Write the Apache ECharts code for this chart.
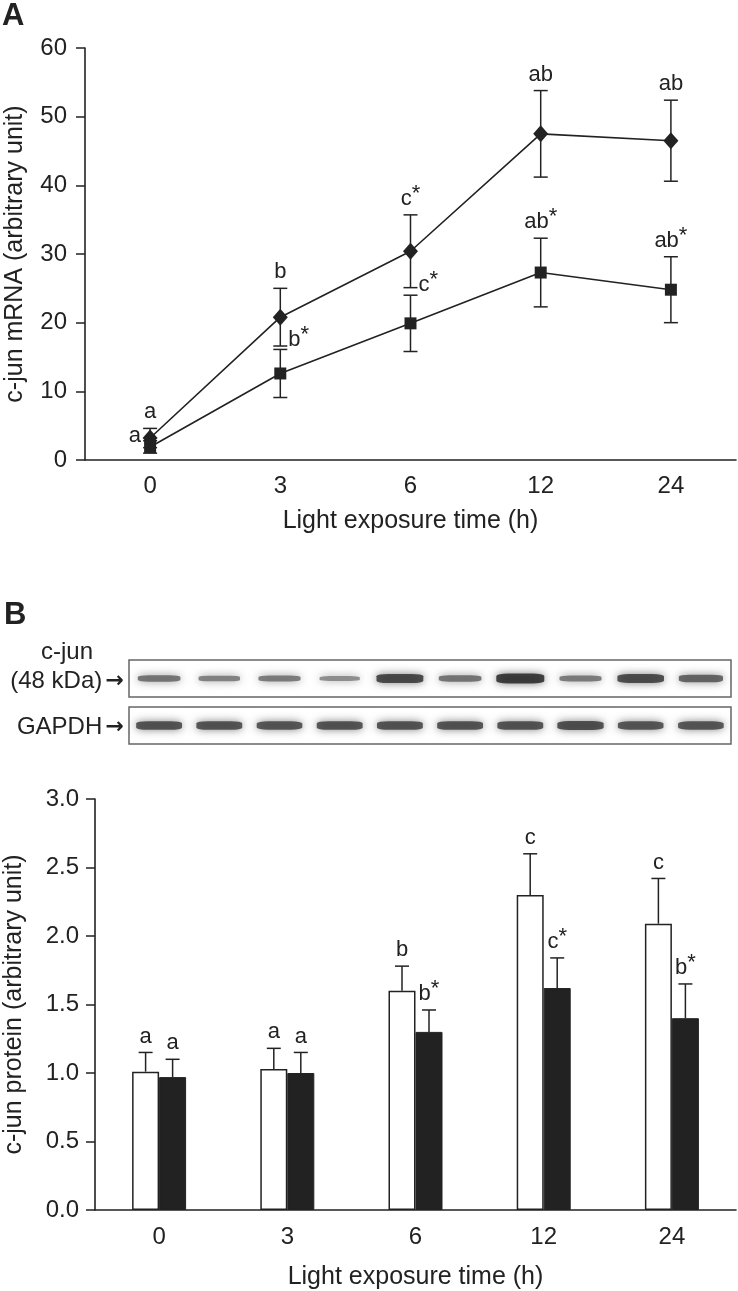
<!DOCTYPE html>
<html>
<head>
<meta charset="utf-8">
<script src="https://cdn.jsdelivr.net/npm/echarts@6/dist/echarts.min.js"></script>
<style>
html, body { margin: 0; padding: 0; background: #fff; }
#chart { width: 738px; height: 1291px; }
</style>
</head>
<body>
<div id="chart"></div>
<script>
// time points (h)
var hours = ['0', '3', '6', '12', '24'];

// A: c-jun mRNA, diamond and square groups (mean, SD)
var mrnaDiamond = [3.2, 20.8, 30.4, 47.5, 46.5];
var mrnaDiamondSd = [1.4, 4.2, 5.3, 6.3, 5.9];
var mrnaSquare = [1.9, 12.6, 19.9, 27.3, 24.8];
var mrnaSquareSd = [0.9, 3.5, 4.1, 5.0, 4.8];
var mrnaDiamondMarks = ['a', 'b', 'c*', 'ab', 'ab'];
var mrnaSquareMarks = ['a', 'b*', 'c*', 'ab*', 'ab*'];

// B: western blot, two lanes per time point (relative band density)
var blotLanes = ['0', '0', '3', '3', '6', '6', '12', '12', '24', '24'];
var cjunDensity = [0.55, 0.45, 0.5, 0.35, 0.9, 0.55, 1.0, 0.5, 0.88, 0.68];
var gapdhDensity = [0.82, 0.82, 0.8, 0.82, 0.82, 0.82, 0.82, 0.86, 0.8, 0.8];

// B: c-jun protein, open and filled bars (mean, SD)
var proteinOpen = [1.01, 1.03, 1.60, 2.30, 2.09];
var proteinOpenSd = [0.14, 0.15, 0.18, 0.30, 0.33];
var proteinFilled = [0.97, 1.00, 1.30, 1.62, 1.40];
var proteinFilledSd = [0.13, 0.15, 0.16, 0.22, 0.25];
var proteinOpenMarks = ['a', 'a', 'b', 'c', 'c'];
var proteinFilledMarks = ['a', 'a', 'b*', 'c*', 'b*'];

var FONT = '"Liberation Sans", Arial, sans-serif';
var INK = '#222';
var BAR_W = 27;

var chart = echarts.init(document.getElementById('chart'));

var markRich = {
  t: { fontSize: 22, fontFamily: FONT, fill: INK, verticalAlign: 'bottom' },
  s: { fontSize: 22, fontFamily: FONT, fill: INK, verticalAlign: 'bottom', padding: [0, 0, 5, 0] }
};
function richMark(t) {
  if (t.indexOf('*') >= 0) return '{t|' + t.replace('*', '') + '}{s|*}';
  return '{t|' + t + '}';
}

// error bars + significance letters
function errorSeries(axis, means, sds, marks, place, shift, oneSided) {
  return {
    type: 'custom',
    xAxisIndex: axis,
    yAxisIndex: axis,
    silent: true,
    z: 3,
    data: means.map(function (m, i) { return [i, m, sds[i]]; }),
    renderItem: function (params, api) {
      var i = api.value(0), m = api.value(1), s = api.value(2);
      var p = api.coord([i, m]);
      var x = p[0] + shift;
      var yTop = api.coord([i, m + s])[1];
      var yBot = oneSided ? p[1] : api.coord([i, m - s])[1];
      var ls = { stroke: INK, lineWidth: 1.5 };
      var kids = [
        { type: 'line', shape: { x1: x, y1: yTop, x2: x, y2: yBot }, style: ls },
        { type: 'line', shape: { x1: x - 7, y1: yTop, x2: x + 7, y2: yTop }, style: ls }
      ];
      if (!oneSided) {
        kids.push({ type: 'line', shape: { x1: x - 7, y1: yBot, x2: x + 7, y2: yBot }, style: ls });
      }
      var where = place[params.dataIndex];
      var tx = x, ty = yTop - 5, al = 'center';
      if (where === 'right') { tx = x + 8; ty = yTop + 1; al = 'left'; }
      if (where === 'left') { tx = x - 9; ty = p[1]; al = 'right'; }
      kids.push({
        type: 'text', x: tx, y: ty,
        style: { text: richMark(marks[params.dataIndex]), align: al, verticalAlign: 'bottom', rich: markRich }
      });
      return { type: 'group', children: kids };
    }
  };
}

function bandGray(d) {
  var k = Math.round(170 - 140 * d);
  return 'rgb(' + k + ',' + k + ',' + k + ')';
}
function bandSeries(axis, density) {
  return {
    type: 'scatter',
    xAxisIndex: axis,
    yAxisIndex: axis,
    silent: true,
    symbol: 'roundRect',
    data: density.map(function (d, i) {
      return {
        value: [i, 0.5],
        symbolSize: [36 + 12 * d, 2 + 8 * d],
        itemStyle: { color: bandGray(d), shadowBlur: 8, shadowColor: bandGray(d * 0.6) }
      };
    })
  };
}

var axisLine = { show: true, lineStyle: { color: INK, width: 1.6 } };
var tickStyle = { color: INK, width: 1.5 };
var labelStyle = { color: INK, fontSize: 24, fontFamily: FONT };
var nameStyle = { color: INK, fontSize: 25, fontFamily: FONT };
var blotRich = {
  t: { fontSize: 24, fontFamily: FONT, fill: INK },
  a: { fontSize: 22, fontFamily: '"DejaVu Sans", sans-serif', fontWeight: 'bold', fill: INK }
};

var option = {
  animation: false,
  backgroundColor: '#fff',
  textStyle: { fontFamily: FONT },
  grid: [
    { left: 85, top: 48, width: 651, height: 412, outerBoundsMode: 'none' },
    { left: 129, top: 660, width: 602, height: 37, show: true, borderColor: '#666', borderWidth: 1.5, backgroundColor: '#fff', outerBoundsMode: 'none' },
    { left: 129, top: 707, width: 602, height: 37, show: true, borderColor: '#666', borderWidth: 1.5, backgroundColor: '#fff', outerBoundsMode: 'none' },
    { left: 95, top: 799, width: 641, height: 411, outerBoundsMode: 'none' }
  ],
  xAxis: [
    {
      gridIndex: 0, type: 'category', data: hours, boundaryGap: true,
      axisLine: axisLine, axisTick: { length: 10, lineStyle: tickStyle },
      axisLabel: Object.assign({ margin: 14 }, labelStyle),
      name: 'Light exposure time (h)', nameLocation: 'middle', nameGap: 49, nameTextStyle: nameStyle,
      splitLine: { show: false }
    },
    { gridIndex: 1, type: 'value', min: -0.5, max: blotLanes.length - 0.5, show: false },
    { gridIndex: 2, type: 'value', min: -0.5, max: blotLanes.length - 0.5, show: false },
    {
      gridIndex: 3, type: 'category', data: hours, boundaryGap: true,
      axisLine: axisLine, axisTick: { length: 10, lineStyle: tickStyle },
      axisLabel: Object.assign({ margin: 15 }, labelStyle),
      name: 'Light exposure time (h)', nameLocation: 'middle', nameGap: 55, nameTextStyle: nameStyle,
      splitLine: { show: false }
    }
  ],
  yAxis: [
    {
      gridIndex: 0, type: 'value', min: 0, max: 60, interval: 10,
      axisLine: axisLine, axisTick: { show: true, length: 9, lineStyle: tickStyle },
      axisLabel: Object.assign({ margin: 18 }, labelStyle),
      splitLine: { show: false },
      name: 'c-jun mRNA (arbitrary unit)', nameLocation: 'middle', nameGap: 57, nameTextStyle: nameStyle
    },
    { gridIndex: 1, type: 'value', min: 0, max: 1, show: false },
    { gridIndex: 2, type: 'value', min: 0, max: 1, show: false },
    {
      gridIndex: 3, type: 'value', min: 0, max: 3, interval: 0.5,
      axisLine: axisLine, axisTick: { show: true, length: 9, lineStyle: tickStyle },
      axisLabel: Object.assign({ margin: 16, formatter: function (v) { return v.toFixed(1); } }, labelStyle),
      splitLine: { show: false },
      name: 'c-jun protein (arbitrary unit)', nameLocation: 'middle', nameGap: 68, nameTextStyle: nameStyle
    }
  ],
  graphic: [
    { type: 'text', left: 2, top: 1, style: { text: 'A', font: 'bold 31px ' + FONT, fill: INK } },
    { type: 'text', left: 4, top: 600, style: { text: 'B', font: 'bold 31px ' + FONT, fill: INK } },
    { type: 'text', x: 67, y: 652, style: { text: 'c-jun', font: '24px ' + FONT, fill: INK, align: 'center', verticalAlign: 'middle' } },
    { type: 'text', x: 124, y: 681, style: { text: '{t|(48 kDa)} {a|\u2192}', rich: blotRich, align: 'right', verticalAlign: 'middle' } },
    { type: 'text', x: 124, y: 727, style: { text: '{t|GAPDH} {a|\u2192}', rich: blotRich, align: 'right', verticalAlign: 'middle' } }
  ],
  series: [
    errorSeries(0, mrnaDiamond, mrnaDiamondSd, mrnaDiamondMarks, ['top', 'top', 'top', 'top', 'top'], 0, false),
    errorSeries(0, mrnaSquare, mrnaSquareSd, mrnaSquareMarks, ['left', 'right', 'right', 'top', 'top'], 0, false),
    {
      type: 'line', xAxisIndex: 0, yAxisIndex: 0, data: mrnaDiamond, z: 5, silent: true,
      symbol: 'diamond', symbolSize: [15, 17], showAllSymbol: true,
      itemStyle: { color: INK }, lineStyle: { color: INK, width: 1.6 }
    },
    {
      type: 'line', xAxisIndex: 0, yAxisIndex: 0, data: mrnaSquare, z: 5, silent: true,
      symbol: 'rect', symbolSize: 12, showAllSymbol: true,
      itemStyle: { color: INK }, lineStyle: { color: INK, width: 1.6 }
    },
    bandSeries(1, cjunDensity),
    bandSeries(2, gapdhDensity),
    {
      type: 'bar', xAxisIndex: 3, yAxisIndex: 3, data: proteinOpen, silent: true,
      barWidth: BAR_W, barGap: '0%',
      itemStyle: { color: '#fff', borderColor: INK, borderWidth: 1.5 }
    },
    {
      type: 'bar', xAxisIndex: 3, yAxisIndex: 3, data: proteinFilled, silent: true,
      barWidth: BAR_W, barGap: '0%',
      itemStyle: { color: INK, borderColor: INK, borderWidth: 1 }
    },
    errorSeries(3, proteinOpen, proteinOpenSd, proteinOpenMarks, ['top', 'top', 'top', 'top', 'top'], -BAR_W / 2, true),
    errorSeries(3, proteinFilled, proteinFilledSd, proteinFilledMarks, ['top', 'top', 'top', 'top', 'top'], BAR_W / 2, true)
  ]
};

chart.setOption(option);
</script>
</body>
</html>
